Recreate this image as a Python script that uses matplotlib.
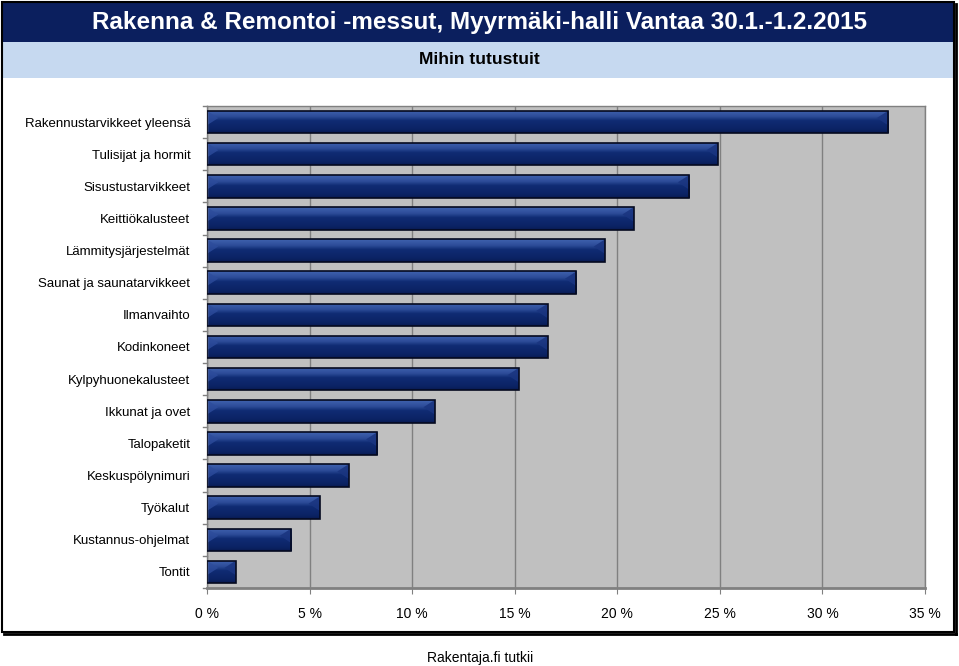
import matplotlib
matplotlib.use("Agg")
import matplotlib.pyplot as plt
import numpy as np
from matplotlib.patches import Rectangle, Polygon
from matplotlib.colors import LinearSegmentedColormap

plt.rcParams['font.family'] = ['Liberation Sans', 'DejaVu Sans']

title = "Rakenna & Remontoi -messut, Myyrmäki-halli Vantaa 30.1.-1.2.2015"
subtitle = "Mihin tutustuit"
footer = "Rakentaja.fi tutkii"

categories = [
    "Rakennustarvikkeet yleensä",
    "Tulisijat ja hormit",
    "Sisustustarvikkeet",
    "Keittiökalusteet",
    "Lämmitysjärjestelmät",
    "Saunat ja saunatarvikkeet",
    "Ilmanvaihto",
    "Kodinkoneet",
    "Kylpyhuonekalusteet",
    "Ikkunat ja ovet",
    "Talopaketit",
    "Keskuspölynimuri",
    "Työkalut",
    "Kustannus-ohjelmat",
    "Tontit",
]
values = [33.2, 24.9, 23.5, 20.8, 19.4, 18.0, 16.6, 16.6, 15.2, 11.1, 8.3, 6.9, 5.5, 4.1, 1.4]
xticks = [0, 5, 10, 15, 20, 25, 30, 35]
xticklabels = [f"{t} %" for t in xticks]

W, H = 959, 666
fig = plt.figure(figsize=(W / 100, H / 100), dpi=100)
fig.patch.set_facecolor("white")


def fx(px):
    return px / W


def fy(py):
    return 1 - py / H


navy = "#0b1f5e"
light = "#c6d9f0"
fig.add_artist(Rectangle((fx(2), fy(42)), fx(952), 40 / H, transform=fig.transFigure,
                         facecolor=navy, edgecolor="none", zorder=0))
fig.add_artist(Rectangle((fx(2), fy(78)), fx(952), 36 / H, transform=fig.transFigure,
                         facecolor=light, edgecolor="none", zorder=0))
fig.add_artist(Rectangle((fx(2), fy(632)), fx(952), 630 / H, transform=fig.transFigure,
                         facecolor="none", edgecolor="black", linewidth=1.5, zorder=1))
fig.add_artist(plt.Line2D([fx(955.5), fx(955.5)], [fy(4), fy(634)], transform=fig.transFigure,
                          color="black", linewidth=2, zorder=1))
fig.add_artist(plt.Line2D([fx(4), fx(955.5)], [fy(633.5), fy(633.5)], transform=fig.transFigure,
                          color="black", linewidth=2, zorder=1))

fig.text(0.5, fy(22), title, ha="center", va="center", color="white",
         fontsize=17.5, fontweight="bold")
fig.text(0.5, fy(60), subtitle, ha="center", va="center", color="black",
         fontsize=12.5, fontweight="bold")
fig.text(fx(480), fy(658), footer, ha="center", va="center", color="black", fontsize=10)

ax = fig.add_axes([fx(207), fy(588), fx(925) - fx(207), (588 - 106) / H])
ax.set_facecolor("#c0c0c0")
n = len(categories)
ax.set_xlim(0, 35)
ax.set_ylim(n - 0.5, -0.5)
ax.set_xticks(xticks)
ax.set_xticklabels(xticklabels, fontsize=10)
ax.set_yticks(range(n))
ax.set_yticklabels(categories, fontsize=9.5)
ax.tick_params(axis="y", length=0, pad=12)
ax.tick_params(axis="x", length=4, color="#808080", pad=10)
for s in ax.spines.values():
    s.set_color("#808080")
    s.set_linewidth(1)
ax.spines["bottom"].set_linewidth(2)
ax.xaxis.grid(True, color="#808080", linewidth=1)
ax.set_axisbelow(True)
for b in np.arange(-0.5, n, 1):
    ax.plot([-0.2, 0], [b, b], color="#808080", linewidth=1, clip_on=False, zorder=3)

cmap = LinearSegmentedColormap.from_list(
    "bev", [(0.0, "#4062ae"), (0.28, "#2c4b98"), (0.45, "#102c74"), (0.85, "#0b2364"), (1.0, "#081a52")])
grad = np.linspace(0, 1, 64).reshape(-1, 1)
bh = 0.7
bars = ax.barh(range(n), values, height=bh, color="none", edgecolor="none")
for i, (bar, v) in enumerate(zip(bars, values)):
    y0 = i - bh / 2
    y1 = i + bh / 2
    im = ax.imshow(grad, cmap=cmap, aspect="auto", extent=[0, v, y1, y0],
                   interpolation="bilinear", zorder=2)
    im.set_clip_path(bar)
    d = 0.55
    dy = bh * 0.32
    ax.add_patch(Polygon([[0, y0], [d, y0 + dy], [0, y0 + 2 * dy]], closed=True,
                         facecolor="#2d4c9c", edgecolor="none", alpha=0.8, zorder=2.5))
    ax.add_patch(Polygon([[v, y0], [v - d, y0 + dy], [v, y0 + 2 * dy]], closed=True,
                         facecolor="#1a3580", edgecolor="none", alpha=0.9, zorder=2.5))
    ax.add_patch(Rectangle((0, y0), v, bh, facecolor="none", edgecolor="#050a20",
                           linewidth=1.2, zorder=3))

fig.savefig("out.png", dpi=100)
